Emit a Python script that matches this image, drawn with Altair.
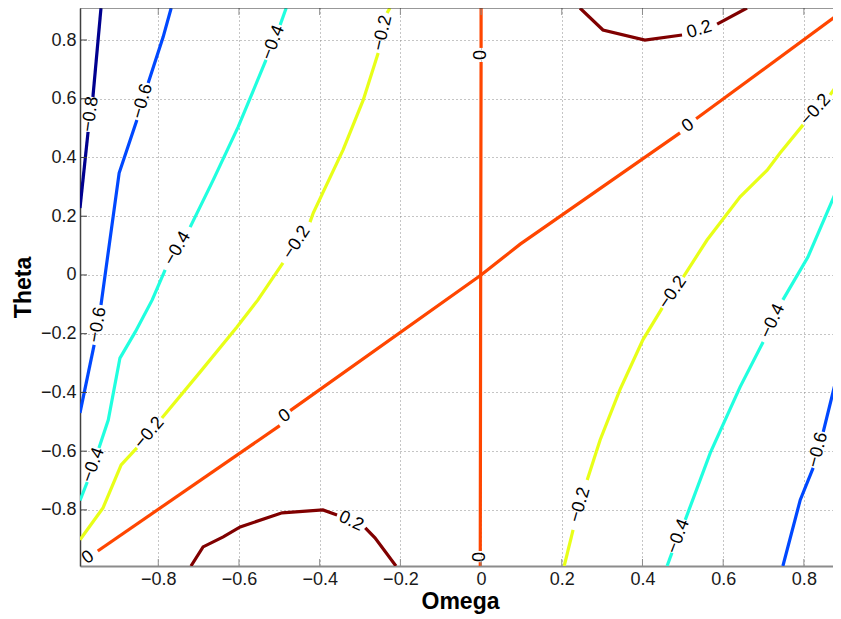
import altair as alt
import pandas as pd

# ---------------- tick values ----------------
omega_ticks = [-0.8, -0.6, -0.4, -0.2, 0.0, 0.2, 0.4, 0.6, 0.8]
theta_ticks = [-0.8, -0.6, -0.4, -0.2, 0.0, 0.2, 0.4, 0.6, 0.8]

# ---------------- contour levels & colours (jet) ----------------
levels = ["-0.8", "-0.6", "-0.4", "-0.2", "0", "0.2"]
level_colors = ["#00008F", "#0048FF", "#20FFDF", "#E8FF18", "#FF4600", "#800000"]

# ---------------- contour segments (omega, theta), split at labels ----------------
c_m08_s1 = [(-0.994, 0.228), (-0.974, 0.487)]
c_m08_s2 = [(-0.962, 0.606), (-0.942, 0.909)]

c_m06L_s1 = [(-0.994, -0.470), (-0.959, -0.238)]
c_m06L_s2 = [(-0.942, -0.102), (-0.897, 0.347), (-0.853, 0.528)]
c_m06L_s3 = [(-0.825, 0.654), (-0.788, 0.810), (-0.768, 0.909)]

c_m04L_s1 = [(-0.994, -0.768), (-0.976, -0.705)]
c_m04L_s2 = [(-0.947, -0.589), (-0.924, -0.494), (-0.895, -0.283), (-0.857, -0.194),
             (-0.815, -0.085), (-0.783, 0.017)]
c_m04L_s3 = [(-0.721, 0.163), (-0.664, 0.323), (-0.602, 0.504), (-0.533, 0.732)]
c_m04L_s4 = [(-0.498, 0.851), (-0.483, 0.909)]

c_m02L_s1 = [(-0.994, -0.902), (-0.937, -0.793), (-0.892, -0.647), (-0.853, -0.589)]
c_m02L_s2 = [(-0.791, -0.487), (-0.696, -0.330), (-0.605, -0.177), (-0.553, -0.085),
             (-0.491, 0.041)]
c_m02L_s3 = [(-0.424, 0.180), (-0.416, 0.211), (-0.342, 0.426), (-0.292, 0.596),
             (-0.255, 0.756)]
c_m02L_s4 = [(-0.233, 0.892), (-0.226, 0.909)]

c_0d_s1 = [(-0.950, -0.940), (-0.499, -0.513)]
c_0d_s2 = [(-0.473, -0.462), (0.0, 0.0), (0.097, 0.105), (0.493, 0.484)]
c_0d_s3 = [(0.533, 0.532), (0.910, 0.912)]

c_0v_s1 = [(0.0, 0.909), (0.0, 0.773)]
c_0v_s2 = [(0.0, 0.725), (-0.001, 0.0), (-0.002, -0.940)]
c_0v_s3 = [(-0.002, -0.978), (-0.002, -0.991)]

c_p02B_s1 = [(-0.719, -0.991), (-0.689, -0.926), (-0.639, -0.892), (-0.597, -0.858),
             (-0.493, -0.810), (-0.392, -0.800), (-0.357, -0.817)]
c_p02B_s2 = [(-0.287, -0.861), (-0.263, -0.895), (-0.211, -0.991)]

c_p02T_s1 = [(0.245, 0.909), (0.302, 0.834), (0.406, 0.800), (0.498, 0.817)]
c_p02T_s2 = [(0.585, 0.854), (0.659, 0.909)]

c_m02R_s1 = [(0.206, -0.991), (0.228, -0.868)]
c_m02R_s2 = [(0.263, -0.698), (0.295, -0.562), (0.344, -0.391), (0.401, -0.221),
             (0.449, -0.112)]
c_m02R_s3 = [(0.501, -0.007), (0.560, 0.119), (0.642, 0.266), (0.709, 0.357),
             (0.741, 0.415), (0.798, 0.511)]
c_m02R_s4 = [(0.865, 0.613), (0.910, 0.700)]

c_m04R_s1 = [(0.461, -0.991), (0.473, -0.946)]
c_m04R_s2 = [(0.506, -0.834), (0.568, -0.606), (0.642, -0.381), (0.699, -0.228)]
c_m04R_s3 = [(0.748, -0.085), (0.810, 0.061), (0.892, 0.323), (0.910, 0.370)]

c_m06R_s1 = [(0.748, -0.991), (0.791, -0.766), (0.823, -0.657)]
c_m06R_s2 = [(0.848, -0.534), (0.892, -0.289), (0.910, -0.190)]

segments = [
    ("-0.8", c_m08_s1), ("-0.8", c_m08_s2),
    ("-0.6", c_m06L_s1), ("-0.6", c_m06L_s2), ("-0.6", c_m06L_s3),
    ("-0.4", c_m04L_s1), ("-0.4", c_m04L_s2), ("-0.4", c_m04L_s3), ("-0.4", c_m04L_s4),
    ("-0.2", c_m02L_s1), ("-0.2", c_m02L_s2), ("-0.2", c_m02L_s3), ("-0.2", c_m02L_s4),
    ("0", c_0d_s1), ("0", c_0d_s2), ("0", c_0d_s3),
    ("0", c_0v_s1), ("0", c_0v_s2), ("0", c_0v_s3),
    ("0.2", c_p02B_s1), ("0.2", c_p02B_s2),
    ("0.2", c_p02T_s1), ("0.2", c_p02T_s2),
    ("-0.2", c_m02R_s1), ("-0.2", c_m02R_s2), ("-0.2", c_m02R_s3), ("-0.2", c_m02R_s4),
    ("-0.4", c_m04R_s1), ("-0.4", c_m04R_s2), ("-0.4", c_m04R_s3),
    ("-0.6", c_m06R_s1), ("-0.6", c_m06R_s2),
]

# ---------------- contour labels ----------------
label_text = ["−0.8", "−0.6", "−0.6", "−0.4", "−0.4", "−0.4", "−0.2", "−0.2", "−0.2",
              "0", "0", "0", "0", "0", "0.2", "0.2",
              "−0.2", "−0.2", "−0.2", "−0.4", "−0.4", "−0.6"]
label_omega = [-0.968, -0.950, -0.839, -0.961, -0.752, -0.515, -0.822, -0.457, -0.244,
               -0.974, -0.486, 0.513, -0.001, -0.002, -0.322, 0.541,
               0.245, 0.475, 0.829, 0.489, 0.723, 0.835]
label_theta = [0.547, -0.170, 0.591, -0.647, 0.090, 0.791, -0.538, 0.110, 0.824,
               -0.962, -0.480, 0.508, 0.749, -0.960, -0.839, 0.835,
               -0.783, -0.060, 0.562, -0.890, -0.157, -0.596]
label_angle = [278, 280, 286, 290, 300, 291, 310, 303, 283,
               324, 324, 324, 270, 270, 25, 343,
               286, 304, 312, 291, 295, 285]

# ---------------- build tables ----------------
rows = []
for si, (lvl, pts) in enumerate(segments):
    for k, (o, t) in enumerate(pts):
        rows.append({"omega": o, "theta": t, "level": lvl, "seg": si, "ord": k})
df_lines = pd.DataFrame(rows)
df_labels = pd.DataFrame({"omega": label_omega, "theta": label_theta,
                          "text": label_text, "angle": label_angle})
df_xt = pd.DataFrame({"omega": omega_ticks})
df_yt = pd.DataFrame({"theta": theta_ticks})

W, H = 753, 558
FONT = "Liberation Sans"

xscale = alt.Scale(domain=[-0.994, -0.994 + W / 403.5], nice=False, zero=False)
yscale = alt.Scale(domain=[-0.991, 0.909], nice=False, zero=False)

xaxis = alt.Axis(values=omega_ticks, format=".1~f", grid=True, gridDash=[1, 3],
                 gridColor="#8a8a8a", gridWidth=1, tickSize=0, labelPadding=4,
                 labelFont=FONT, labelFontSize=18, labelColor="#1a1a1a",
                 labelFlush=False, labelOverlap=False,
                 domainColor="#8c8c8c", domainWidth=2,
                 title="Omega", titleFont=FONT, titleFontSize=23, titleFontWeight="bold",
                 titleColor="black", titleX=380, titleY=42, titleAlign="center",
                 titleBaseline="alphabetic")
yaxis = alt.Axis(values=theta_ticks, format=".1~f", grid=True, gridDash=[1, 3],
                 gridColor="#8a8a8a", gridWidth=1, tickSize=0, labelPadding=4,
                 labelFont=FONT, labelFontSize=18, labelColor="#1a1a1a",
                 labelFlush=False, labelOverlap=False,
                 domainColor="#404040", domainWidth=1.5,
                 title="Theta", titleFont=FONT, titleFontSize=23, titleFontWeight="bold",
                 titleColor="black", titleX=-57, titleY=279, titleAngle=270,
                 titleAlign="center", titleBaseline="middle")

x_enc = alt.X("omega:Q", scale=xscale, axis=xaxis)
y_enc = alt.Y("theta:Q", scale=yscale, axis=yaxis)

lines = alt.Chart(df_lines).mark_line(strokeWidth=3.2, clip=True).encode(
    x=x_enc, y=y_enc,
    color=alt.Color("level:N", scale=alt.Scale(domain=levels, range=level_colors), legend=None),
    detail="seg:N",
    order="ord:Q",
)

labels = alt.Chart(df_labels).mark_text(font=FONT, fontSize=18, color="black",
                                        align="center", baseline="middle").encode(
    x=x_enc, y=y_enc, text="text:N", angle=alt.Angle("angle:Q", scale=None)
)

bottom_ticks = alt.Chart(df_xt).mark_rule(color="#8c8c8c", strokeWidth=1).encode(
    x=x_enc, y=alt.value(H), y2=alt.value(H - 7))
top_ticks = alt.Chart(df_xt).mark_rule(color="#8c8c8c", strokeWidth=1).encode(
    x=x_enc, y=alt.value(0), y2=alt.value(7))
left_ticks = alt.Chart(df_yt).mark_rule(color="#404040", strokeWidth=1).encode(
    y=y_enc, x=alt.value(0), x2=alt.value(7))
top_border = alt.Chart(pd.DataFrame({"a": [0]})).mark_rule(color="#333333", strokeWidth=1.2).encode(
    x=alt.value(0), x2=alt.value(W), y=alt.value(0))

chart = alt.layer(lines, labels, bottom_ticks, top_ticks, left_ticks, top_border).properties(
    width=W, height=H,
    padding={"left": 72, "top": 0, "right": 0, "bottom": 52},
    autosize=alt.AutoSizeParams(type="none"),
    background="white",
).configure_view(stroke=None)

chart.save("out.html", embed_options={"renderer": "svg", "actions": False})
